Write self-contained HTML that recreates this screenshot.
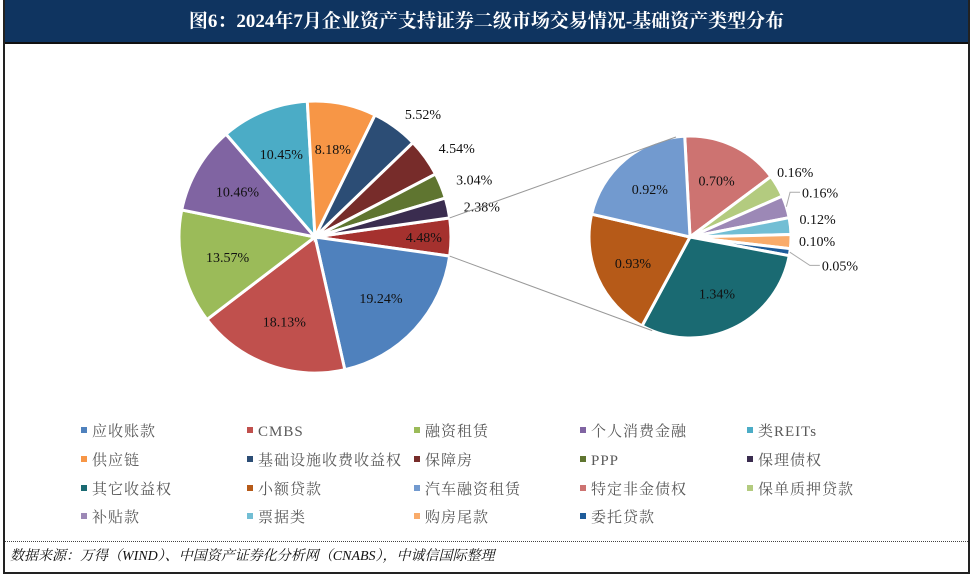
<!DOCTYPE html>
<html><head><meta charset="utf-8"><style>
body{margin:0;width:973px;height:578px;background:#fff;overflow:hidden;font-family:"Liberation Serif","Noto Serif CJK SC",serif}
#frame{position:absolute;left:3px;top:0;width:963px;height:572px;border:2px solid #222;border-top:none}
#hdr{position:absolute;left:0;top:0;width:963px;height:42px;background:#0f3460;border-bottom:2px solid #111;color:#fff;font-weight:bold;font-size:19px;text-align:center;line-height:44px}
#foot{position:absolute;left:0;top:541px;width:963px;border-top:1px dotted #444;height:31px;font-style:italic;font-size:14px;line-height:30px;padding-left:5px;box-sizing:border-box;color:#111}
svg{position:absolute;left:0;top:0}
</style></head><body>
<div id="frame">
<div id="hdr">图6：2024年7月企业资产支持证券二级市场交易情况-基础资产类型分布</div>
<div id="foot">数据来源：万得（WIND）、中国资产证券化分析网（CNABS），中诚信国际整理</div>
</div>
<svg id="chart" width="973" height="578"></svg>
<script>
const mainCats=["应收账款","CMBS","融资租赁","个人消费金融","类REITs","供应链","基础设施收费收益权","保障房","PPP","保理债权"];
const mainVals=[19.24,18.13,13.57,10.46,10.45,8.18,5.52,4.54,3.04,2.38];
const mainColors=["#4f81bd","#c0504d","#9bbb59","#8064a2","#4bacc6","#f79646","#2c4d75","#772c2a","#5f7530","#3a2c4f"];
const otherColor="#a5312e";
const subCats=["特定非金债权","保单质押贷款","补贴款","票据类","购房尾款","委托贷款","其它收益权","小额贷款","汽车融资租赁"];
const subVals=[0.70,0.16,0.16,0.12,0.10,0.05,1.34,0.93,0.92];
const subColors=["#cd7371","#b3cb7f","#9c88b6","#72bed4","#f9ab6a","#1e5c9a","#1a6a72","#b65a18","#729acf"];
const legendOrder=["应收账款","CMBS","融资租赁","个人消费金融","类REITs","供应链","基础设施收费收益权","保障房","PPP","保理债权","其它收益权","小额贷款","汽车融资租赁","特定非金债权","保单质押贷款","补贴款","票据类","购房尾款","委托贷款"];
const NS="http://www.w3.org/2000/svg",svg=document.getElementById('chart');
function mk(t,a){const e=document.createElementNS(NS,t);for(const k in a)e.setAttribute(k,a[k]);svg.appendChild(e);return e;}
function pt(cx,cy,r,deg){const a=deg*Math.PI/180;return [cx+r*Math.cos(a),cy+r*Math.sin(a)];}
function arc(cx,cy,r,a0,a1){const p0=pt(cx,cy,r,a0),p1=pt(cx,cy,r,a1);const l=(a1-a0)>180?1:0;return `M${cx},${cy}L${p0[0]},${p0[1]}A${r},${r} 0 ${l} 1 ${p1[0]},${p1[1]}Z`;}
const otherVal=subVals.reduce((a,b)=>a+b,0);
const total=mainVals.reduce((a,b)=>a+b,0)+otherVal;
const cx=315,cy=237,R=136;
let a=-otherVal/total*180;
function lbl(x,y,t,anchor){const e=mk('text',{x:x,y:y+5,'font-size':14,fill:'#111','text-anchor':anchor,'font-family':'Liberation Serif, serif'});e.textContent=t;return e;}
let oa0=a,oa1=a+otherVal/total*360;
let s=mk('path',{d:arc(cx,cy,R,oa0,oa1),fill:otherColor,stroke:'#fff','stroke-width':3});


let lp=pt(cx,cy,R*0.8,(oa0+oa1)/2);lbl(lp[0],lp[1],otherVal.toFixed(2)+'%','middle');
a=oa1;
mainVals.forEach((v,i)=>{const a1=a+v/total*360;const p=mk('path',{d:arc(cx,cy,R,a,a1),fill:mainColors[i],stroke:'#fff','stroke-width':3});


const m=(a+a1)/2;const t=v.toFixed(2)+'%';
if(v>6){const q=pt(cx,cy,R*0.66,m);lbl(q[0],q[1],t,'middle');}
else{const q=pt(cx,cy,R*1.12,m);lbl(q[0],q[1]+(v<2.5?2:0),t,'start');}
a=a1;});
const sx=690,sy=237,r2=101;
let b=-93;
const sTot=otherVal;
let k=0;
subVals.forEach((v,i)=>{const b1=b+v/sTot*360;const p=mk('path',{d:arc(sx,sy,r2,b,b1),fill:subColors[i],stroke:'#fff','stroke-width':3});


const m=(b+b1)/2;const t=v.toFixed(2)+'%';
if(v>0.5){const q=pt(sx,sy,r2*0.62,m);lbl(q[0],q[1],t,'middle');}
else{const q=pt(sx,sy,r2*1.08,m);
const dx=[-7,8,1,0,24][k], dy=[-10,-12,-6,-1,12][k];
const tx=q[0]+dx,ty=q[1]+dy;
lbl(tx,ty,t,'start');
if(k===1||k===4){const e=pt(sx,sy,r2,m);const ln=mk('polyline',{points:`${e[0]},${e[1]} ${tx-12},${ty} ${tx-2},${ty}`,fill:'none',stroke:'#aaa','stroke-width':1});

}
k++;}
b=b1;});
const c1=pt(cx,cy,R,oa0),c2=pt(cx,cy,R,oa1);
const t1=pt(sx,sy,r2,-98),t2=pt(sx,sy,r2,112);
let l1=mk('line',{x1:c1[0],y1:c1[1],x2:t1[0],y2:t1[1],stroke:'#999','stroke-width':1});


let l2=mk('line',{x1:c2[0],y1:c2[1],x2:t2[0],y2:t2[1],stroke:'#999','stroke-width':1});


const colorOf={};mainCats.forEach((c,i)=>colorOf[c]=mainColors[i]);subCats.forEach((c,i)=>colorOf[c]=subColors[i]);
const colX=[84,250,417,583,750],rowY=[430,459,488,516];
legendOrder.forEach((c,i)=>{const x=colX[i%5],y=rowY[Math.floor(i/5)];
const r=mk('rect',{x:x-3,y:y-3,width:6,height:6,fill:colorOf[c]});


const t=mk('text',{x:x+8,y:y+6,'font-size':15,fill:'#595959','font-family':'Liberation Serif, Noto Serif CJK SC, serif','letter-spacing':'1'});t.textContent=c;

});
</script>
</body></html>
